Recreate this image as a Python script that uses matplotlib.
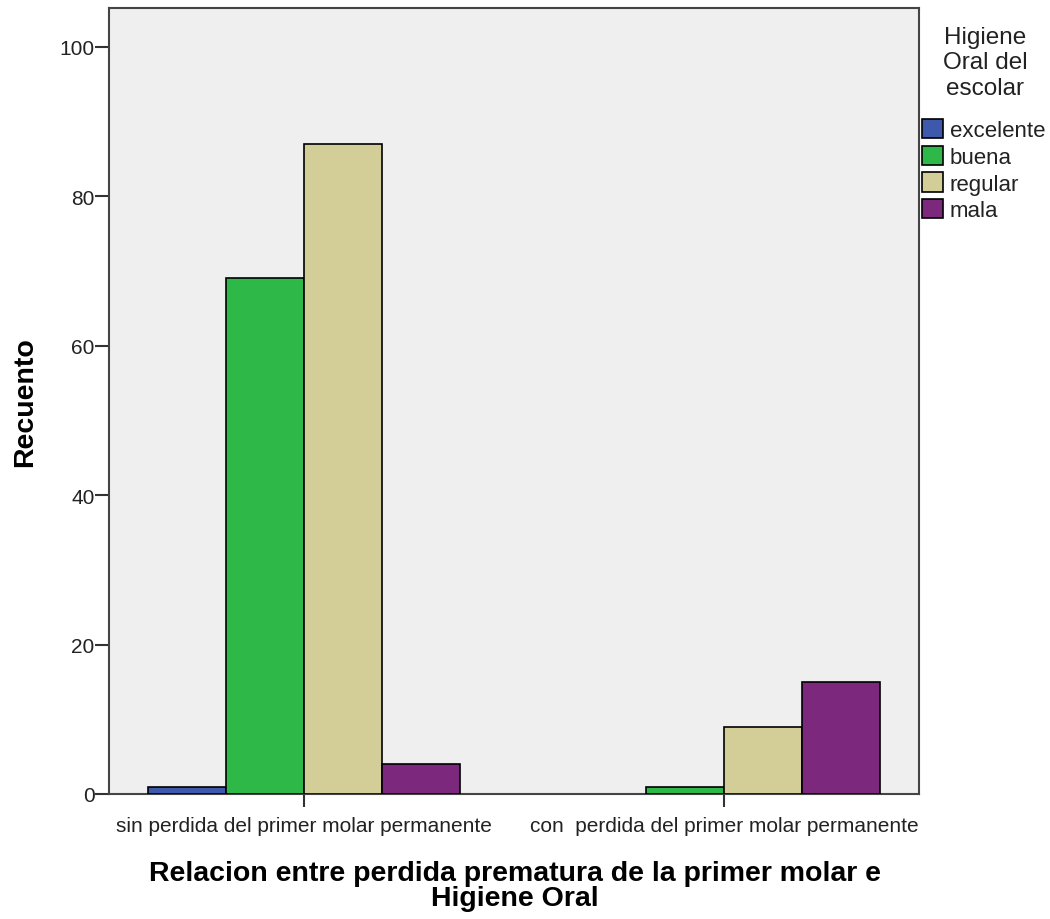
import matplotlib
matplotlib.use("Agg")
import matplotlib.pyplot as plt
import numpy as np
from matplotlib.patches import Patch

categories = ["sin perdida del primer molar permanente",
              "con  perdida del primer molar permanente"]
series_names = ["excelente", "buena", "regular", "mala"]
excelente = [1, 0]
buena = [69, 1]
regular = [87, 9]
mala = [4, 15]
yticks = [0, 20, 40, 60, 80, 100]

colors = ["#3E58AC", "#2EB848", "#D3CE97", "#7B287D"]
values = [excelente, buena, regular, mala]

plt.rcParams['font.family'] = ['Liberation Sans', 'DejaVu Sans']

fig = plt.figure(figsize=(10.5, 9.2), dpi=100)
ax = fig.add_axes([109/1050, 125/920, 810/1050, 786/920])
ax.set_facecolor("#EFEFEF")

x = np.arange(len(categories))
w = 0.1857
for i, (vals, c) in enumerate(zip(values, colors)):
    lws = [1.2 if v > 0 else 0 for v in vals]
    ax.bar(x + (i - 1.5) * w, vals, width=w, color=c, edgecolor="black",
           linewidth=lws, zorder=3)

ax.set_xlim(-0.464, 1.464)
ax.set_ylim(0, 105.2)
ax.set_xticks(x)
ax.set_xticklabels(categories, fontsize=15, color="#222222")
ax.set_yticks(yticks)
ax.set_yticklabels([str(t) for t in yticks], fontsize=15, color="#222222")
ax.tick_params(axis='x', length=9, width=1.5, color="#333333", pad=7)
ax.tick_params(axis='y', length=10, width=1.5, color="#333333", pad=0.5)
for s in ax.spines.values():
    s.set_color("#444444")
    s.set_linewidth(1.5)

ax.set_ylabel("Recuento", fontsize=20.5, fontweight="bold")
ax.yaxis.set_label_coords(-0.087, 0.5)
ax.set_xlabel("Relacion entre perdida prematura de la primer molar e\nHigiene Oral",
              fontsize=20.5, fontweight="bold", linespacing=0.95)
ax.xaxis.set_label_coords(0.501, -0.084)

fig.text(985/1050, 1 - 27/920, "Higiene\nOral del\nescolar", ha="center",
         va="top", fontsize=17.5, linespacing=1.2, color="#222222")

handles = [Patch(facecolor=c, edgecolor="black", linewidth=1.2) for c in colors]
leg = fig.legend(handles, series_names,
                 loc="upper left", bbox_to_anchor=(922/1050, 1 - 120/920),
                 frameon=False, fontsize=16,
                 handlelength=0.95, handleheight=0.95, handletextpad=0.3,
                 labelspacing=0.2, borderaxespad=0, borderpad=0)
for t in leg.get_texts():
    t.set_color("#222222")

fig.savefig("out.png", dpi=100)
